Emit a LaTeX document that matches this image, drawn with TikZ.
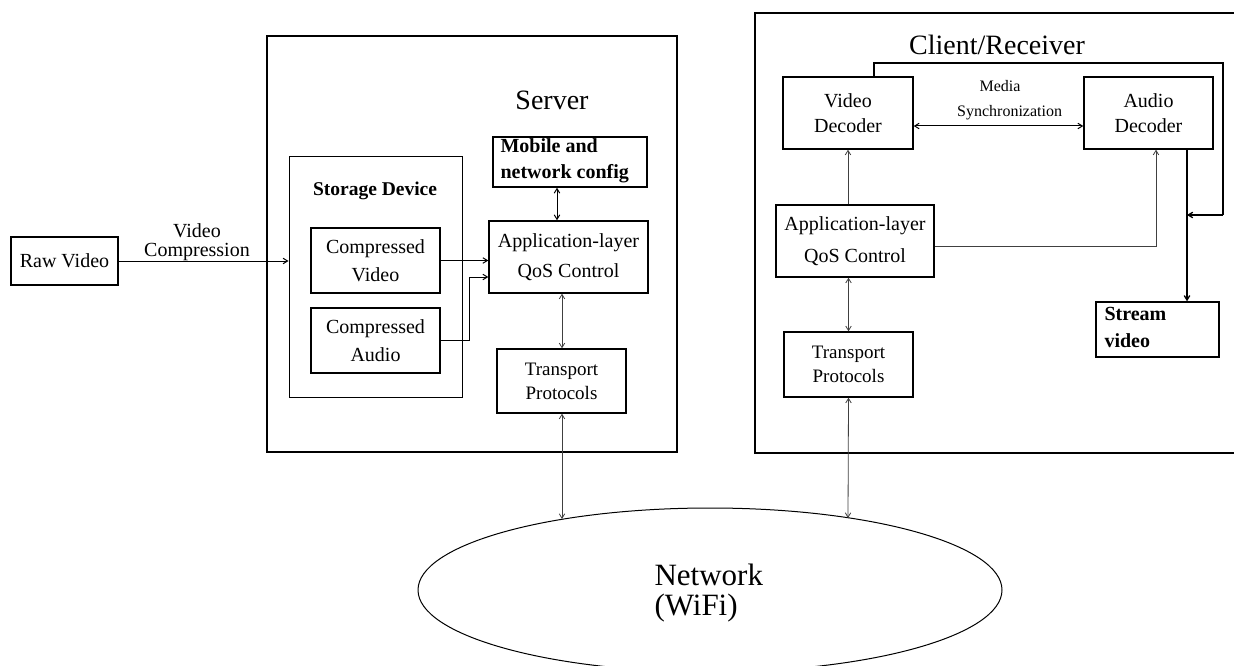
\documentclass[tikz,border=0pt]{standalone}
\usepackage{fontspec}
\setmainfont{Liberation Serif}
\usetikzlibrary{arrows.meta,shapes.geometric}

\tikzset{
  box/.style={draw, line width=1.4pt, inner sep=0pt, anchor=center},
  outer/.style={draw, line width=2pt, inner sep=0pt, anchor=center},
  txt/.style={font={\fontsize{20}{28}\selectfont}, align=center},
  conn/.style={line width=0.8pt, black!75},
  heavy/.style={line width=1.3pt, black},
  arr/.style={-{Straight Barb[length=4.5pt,width=5.5pt]}},
  darr/.style={{Straight Barb[length=4.5pt,width=5.5pt]}-{Straight Barb[length=4.5pt,width=5.5pt]}},
}

\begin{document}
\begin{tikzpicture}[x=1pt,y=-1pt]
\useasboundingbox (0,0) rectangle (1234,666);
\clip (0,0) rectangle (1234,666);

% ---------- outer frames ----------
\node[outer, minimum width=410pt, minimum height=416pt] (server) at (472,244) {};
\node[outer, minimum width=490pt, minimum height=440pt] (client) at (1000,233) {};

% ---------- titles ----------
\node[font={\fontsize{28}{32}\selectfont}] (servertitle) at (552,100) {Server};
\node[font={\fontsize{28}{32}\selectfont}] (clienttitle) at (997,45) {Client/Receiver};

% ---------- source side ----------
\node[box, txt, minimum width=107pt, minimum height=48pt] (raw) at (64.5,261) {Raw Video};
\node[txt, font={\fontsize{20}{19}\selectfont}] (vclabel) at (197,242) {Video\\Compression};

\node[box, line width=1pt, minimum width=173pt, minimum height=240pt] (storage) at (375.5,277) {};
\node[font={\bfseries\fontsize{19.5}{24}\selectfont}] (storagetitle) at (375,191) {Storage Device};
\node[box, txt, minimum width=129pt, minimum height=65pt] (cv) at (375.5,260.5) {Compressed\\Video};
\node[box, txt, minimum width=129pt, minimum height=65pt] (ca) at (375.5,340.5) {Compressed\\Audio};

\node[box, minimum width=154pt, minimum height=50pt] (mobile) at (570,162) {};
\node[font={\bfseries\fontsize{20}{26}\selectfont}, align=left, anchor=west] (mobiletext) at (497,161) {Mobile and\\network config};

\node[box, txt, font={\fontsize{20}{30}\selectfont}, minimum width=159pt, minimum height=72pt] (apps) at (568.5,257) {Application-layer\\QoS Control};
\node[box, txt, font={\fontsize{19}{24}\selectfont}, minimum width=129pt, minimum height=64pt] (transs) at (561.5,381) {Transport\\Protocols};

% ---------- receiver side ----------
\node[box, txt, font={\fontsize{20}{25}\selectfont}, minimum width=130pt, minimum height=72pt] (vd) at (848,113) {Video\\Decoder};
\node[box, txt, font={\fontsize{20}{25}\selectfont}, minimum width=129pt, minimum height=72pt] (ad) at (1148.5,113) {Audio\\Decoder};
\node[font={\fontsize{16}{25}\selectfont}, align=center] (sync) at (1000,100) {Media\\\hspace*{1.2em}Synchronization};
\node[box, txt, font={\fontsize{20}{32}\selectfont}, minimum width=158pt, minimum height=72pt] (appc) at (855,241) {Application-layer\\QoS Control};
\node[box, txt, font={\fontsize{19}{24}\selectfont}, minimum width=129pt, minimum height=65pt] (transc) at (848.5,364.5) {Transport\\Protocols};
\node[box, minimum width=123pt, minimum height=55pt] (stream) at (1157.5,329.5) {};
\node[font={\bfseries\fontsize{20}{27}\selectfont}, align=left, anchor=west] (streamtext) at (1101,327) {Stream\\video};

% ---------- network ----------
\node[draw, ellipse, line width=1pt, minimum width=584pt, minimum height=164pt, inner sep=0pt] (net) at (710,590) {};
\node[font={\fontsize{31}{30}\selectfont}, align=left, anchor=west] (nettext) at (651,593) {Network\\(WiFi)};

% ---------- helper coordinates ----------
\coordinate (caBend) at (469,0);
\coordinate (caIn) at (0,277);
\coordinate (mobX) at (557,0);
\coordinate (srvX) at (562,0);
\coordinate (netL) at (562,519);
\coordinate (netR) at (848,518);
\coordinate (syncY) at (0,126);
\coordinate (fbTop) at (0,63);
\coordinate (fbRight) at (1223,0);
\coordinate (fbY) at (0,215);
\coordinate (adX) at (1187,0);
\coordinate (appcY) at (0,246);
\coordinate (adIn) at (1156,0);

% ---------- server connectors ----------
\draw[heavy, arr, line width=1pt] (raw.east) -- (raw.east -| storage.west);
\draw[heavy, arr, line width=1pt] (cv.east) -- (cv.east -| apps.west);
\draw[heavy, arr, line width=1pt] (ca.east) -| (caBend |- caIn) -- (caIn -| apps.west);
\draw[heavy, darr, line width=1pt] (mobX |- mobile.south) -- (mobX |- apps.north);
\draw[conn, darr] (srvX |- apps.south) -- (srvX |- transs.north);
\draw[conn, darr] (srvX |- transs.south) -- (netL);

% ---------- receiver connectors ----------
\draw[heavy, darr, line width=1pt] (syncY -| vd.east) -- (syncY -| ad.west);
\draw[heavy] ([xshift=26pt]vd.north) |- (fbTop -| fbRight) |- (fbY -| fbRight);
\draw[heavy, arr] (fbY -| fbRight) -- (fbY -| adX);
\draw[heavy, arr] (adX |- ad.south) -- (adX |- stream.north);
\draw[conn, arr] (appc.north -| vd.south) -- (vd.south);
\draw[conn, arr] (appcY -| appc.east) -| (adIn |- ad.south);
\draw[conn, darr] (appc.south -| transc.north) -- (transc.north);
\draw[conn, darr] (transc.south) -- (netR);
\end{tikzpicture}
\end{document}
